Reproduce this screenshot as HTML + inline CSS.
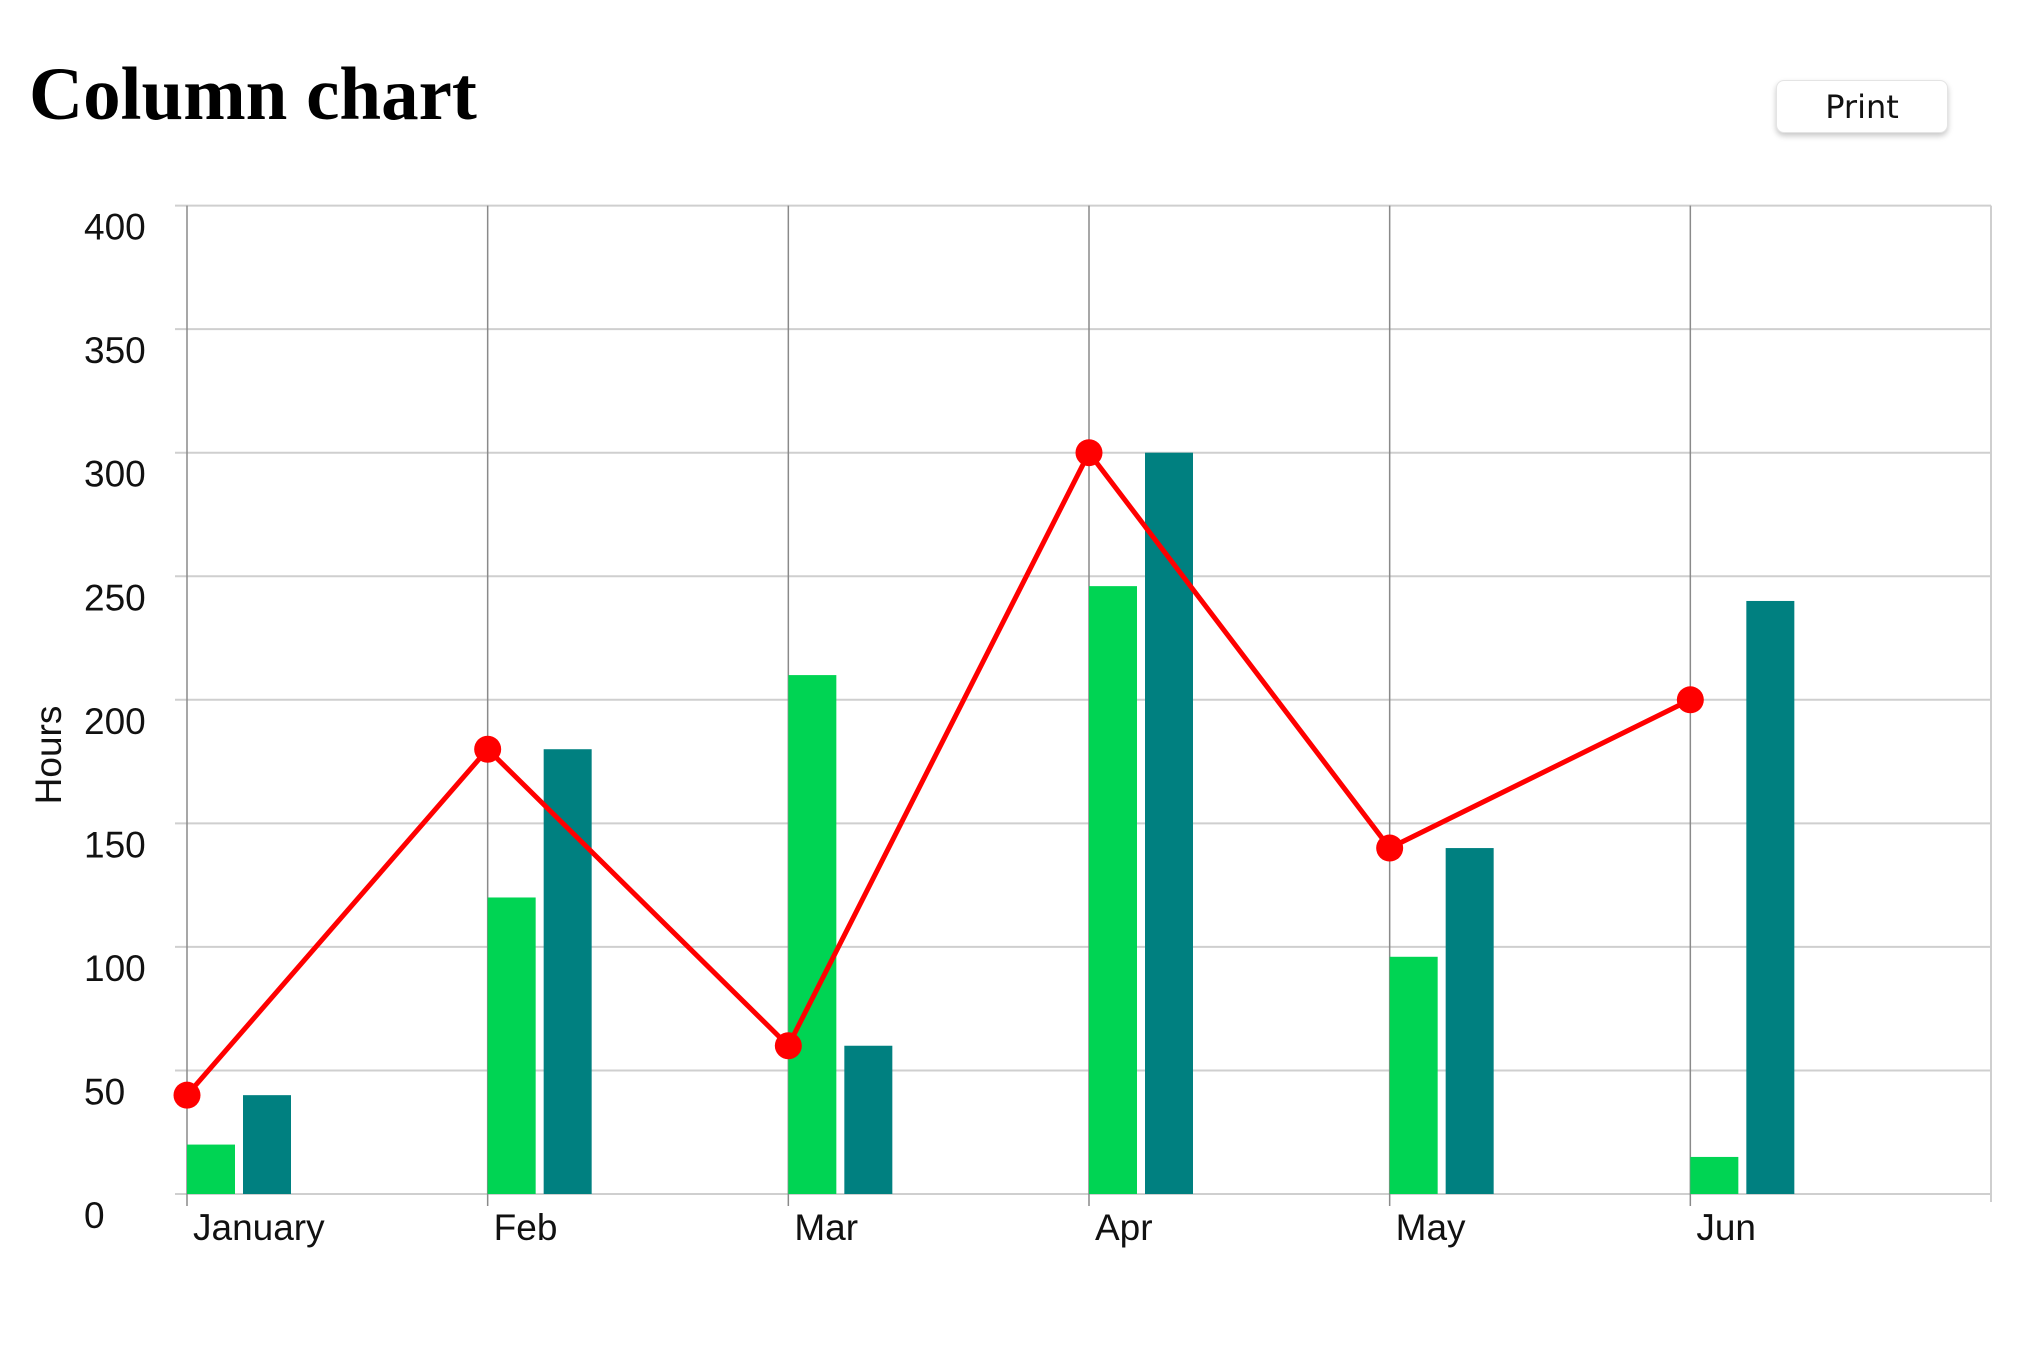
<!DOCTYPE html>
<html><head><meta charset="utf-8"><style>
body{margin:0;background:#fff;width:2040px;height:1356px;overflow:hidden;position:relative;font-family:"Liberation Sans",sans-serif}
h1{position:absolute;left:29px;top:52px;margin:0;font:bold 75px "Liberation Serif",serif;color:#000}
button{position:absolute;left:1776px;top:80px;width:172px;height:53px;background:#fff;border:1px solid #e4e4e4;border-radius:8px;box-shadow:0 3px 6px rgba(0,0,0,.22);font:32px "DejaVu Sans",sans-serif;color:#111;padding:0}
svg{position:absolute;left:0;top:0}
</style></head><body>
<h1>Column chart</h1>
<button>Print</button>
<svg id="chart" width="2040" height="1356"></svg>
<script>
const categories=["January","Feb","Mar","Apr","May","Jun"];
const greenValues=[20,120,210,246,96,15];
const tealValues=[40,180,60,300,140,240];
const lineValues=[40,180,60,300,140,200];
const yTicks=[0,50,100,150,200,250,300,350,400];
const NS="http://www.w3.org/2000/svg";
const svg=document.getElementById('chart');
const L=187,R=1991,Y0=1194,Y1=205.6,YMAX=400;
const step=(R-L)/categories.length;
const x=i=>L+i*step;
const y=v=>Y0-(v/YMAX)*(Y0-Y1);
function mk(t,a){const e=document.createElementNS(NS,t);for(const k in a)e.setAttribute(k,a[k]);svg.appendChild(e);return e;}
yTicks.forEach(v=>{
  const g=mk('line',{x1:L-12,x2:R,y1:y(v),y2:y(v),stroke:'#cfcfcf','stroke-width':2});
  
  
  const t=mk('text',{x:84,y:y(v)+34,'text-anchor':'start','font-size':37,fill:'#111'});
  t.textContent=v;
  
  
});
const re=mk('line',{x1:R,x2:R,y1:Y1,y2:Y0+8,stroke:'#cfcfcf','stroke-width':2});


categories.forEach((c,i)=>{
  const g=mk('line',{x1:x(i),x2:x(i),y1:Y1,y2:Y0+12,stroke:'#8a8a8a','stroke-width':1.5});
  
  
  const t=mk('text',{x:x(i)+6,y:1240,'font-size':37,fill:'#111'});
  t.textContent=c;
  
  
  const b1=mk('rect',{x:x(i),y:y(greenValues[i]),width:48,height:Y0-y(greenValues[i]),fill:'#00d453'});
  
  
  const b2=mk('rect',{x:x(i)+56,y:y(tealValues[i]),width:48,height:Y0-y(tealValues[i]),fill:'#008080'});
  
  
});
const pl=mk('polyline',{points:lineValues.map((v,i)=>x(i)+','+y(v)).join(' '),fill:'none',stroke:'#ff0000','stroke-width':5});


lineValues.forEach((v,i)=>{
  const p=mk('circle',{cx:x(i),cy:y(v),r:13.5,fill:'#ff0000'});
  
  
});
const yt=mk('text',{x:0,y:0,transform:'translate(61,755) rotate(-90)','text-anchor':'middle','font-size':37,fill:'#111'});
yt.textContent='Hours';


</script>
</body></html>
